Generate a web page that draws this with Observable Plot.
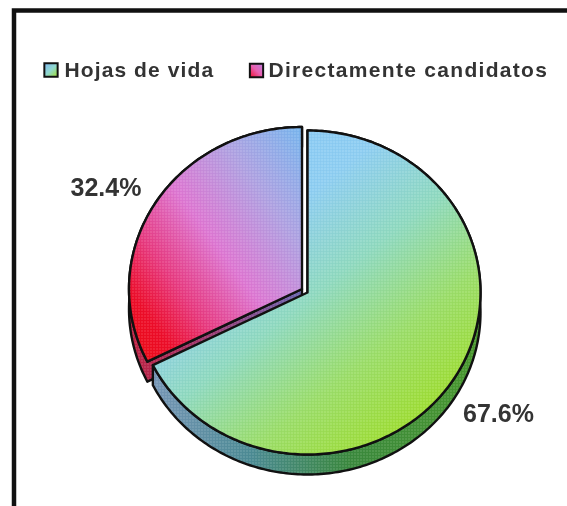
<!DOCTYPE html>
<html>
<head>
<meta charset="utf-8">
<script src="https://cdn.jsdelivr.net/npm/d3@7"></script>
<script src="https://cdn.jsdelivr.net/npm/@observablehq/plot@0.6"></script>
<style>html,body{margin:0;padding:0;background:#fff}svg{display:block;filter:blur(0.4px)}</style>
</head>
<body>
<div id="chart"></div>
<script>
const categories = ["Hojas de vida", "Directamente candidatos"];
const values = [67.6, 32.4];
const valueLabels = ["67.6%", "32.4%"];

const W = 567, H = 506;
const rx = 173, ry = 162;
const cx = 307, cy = 292;
const depth = 20 / ry;
const explode = {dx: -5.5 / rx, dy: 3.5 / ry};

const pie = d3.pie().sort(null).startAngle(0).endAngle(2 * Math.PI)(values);
const arcPts = (a0, a1, ox = 0, oy = 0) => {
  const n = Math.max(2, Math.ceil((a1 - a0) * 60));
  return d3.range(n + 1).map(i => {
    const a = a0 + (a1 - a0) * i / n;
    return {x: ox + Math.sin(a), y: oy + Math.cos(a)};
  });
};
const slice = (p, ox, oy) => [{x: ox, y: oy}, ...arcPts(p.startAngle, p.endAngle, ox, oy)];
const side = (p, ox, oy) => [
  {x: ox, y: oy}, ...arcPts(p.startAngle, p.endAngle, ox, oy),
  ...arcPts(p.startAngle, p.endAngle, ox, oy - depth).reverse(), {x: ox, y: oy - depth}
];

const [big, small] = pie;
const outline = {stroke: "#111", strokeWidth: 2.4, strokeLinejoin: "round"};
const closed = {x: "x", y: "y", curve: "linear-closed"};
const shape = (pts, fill) => [
  Plot.line(pts, {...closed, fill, stroke: "none"}),
  Plot.line(pts, {...closed, fill: "url(#dots)", stroke: "none"}),
  Plot.line(pts, {...closed, fill: "none", ...outline})
];

const stops = {
  gBig: {dir: [0, 0, 0.8, 1], s: [[0, "#88c8fa"], [0.35, "#8fd0f4"], [0.55, "#90dcc0"], [0.75, "#9ce068"], [1, "#a0e020"]]},
  gSmall: {dir: [1, 0, 0, 1], s: [[0, "#78b8f0"], [0.25, "#b0a4e4"], [0.5, "#e078d4"], [0.7, "#ea3a80"], [0.85, "#f00c28"], [1, "#f00a10"]]},
  gBigSide: {dir: [0, 0, 1, 0], s: [[0, "#7898b8"], [0.3, "#4c8c94"], [0.6, "#3a8a3c"], [1, "#4a9a2c"]]},
  gSmallSide: {dir: [1, 0, 0, 0], s: [[0, "#6a64b0"], [0.6, "#a03468"], [1, "#c02040"]]},
  gKey1: {dir: [0, 0, 1, 1], s: [[0, "#80b8f0"], [0.5, "#90d8d0"], [1, "#a0e030"]]},
  gKey2: {dir: [1, 0, 0, 1], s: [[0, "#c080e0"], [0.5, "#e860b0"], [1, "#f01030"]]}
};

const font = {fontFamily: "Liberation Sans, Arial, sans-serif", fontWeight: "bold", fill: "#333", stroke: "none"};

const chart = Plot.plot({
  width: W, height: H, margin: 0,
  x: {domain: [-cx / rx, (W - cx) / rx], range: [0, W], axis: null},
  y: {domain: [(cy - H) / ry, cy / ry], range: [H, 0], axis: null},
  style: {background: "#fff"},
  marks: [
    Plot.frame({stroke: "#111", strokeWidth: 4.5, insetLeft: 13.5, insetTop: 10, insetRight: -5, insetBottom: -5}),
    ...shape(side(small, explode.dx, explode.dy), "url(#gSmallSide)"),
    ...shape(slice(small, explode.dx, explode.dy), "url(#gSmall)"),
    ...shape(side(big, 0, 0), "url(#gBigSide)"),
    ...shape(slice(big, 0, 0), "url(#gBig)"),
    Plot.text([valueLabels[0]], {x: () => 1.104, y: () => -0.753, text: d => d, fontSize: 25, ...font}),
    Plot.text([valueLabels[1]], {x: () => -1.165, y: () => 0.648, text: d => d, fontSize: 25, ...font}),
    Plot.dot([categories[0]], {frameAnchor: "top-left", dx: 50.5, dy: 69.5, symbol: "square", r: 7.5, fill: "url(#gKey1)", stroke: "#111", strokeWidth: 2}),
    Plot.text([categories[0]], {frameAnchor: "top-left", textAnchor: "start", lineAnchor: "middle", dx: 64, dy: 69.5, text: d => d, fontSize: 21, ...font}),
    Plot.dot([categories[1]], {frameAnchor: "top-left", dx: 256, dy: 70, symbol: "square", r: 7.5, fill: "url(#gKey2)", stroke: "#111", strokeWidth: 2}),
    Plot.text([categories[1]], {frameAnchor: "top-left", textAnchor: "start", lineAnchor: "middle", dx: 268, dy: 69.5, text: d => d, fontSize: 21, ...font})
  ]
});

const defs = d3.select(chart).insert("defs", ":first-child");
for (const [id, g] of Object.entries(stops)) {
  const lg = defs.append("linearGradient").attr("id", id)
    .attr("x1", g.dir[0]).attr("y1", g.dir[1]).attr("x2", g.dir[2]).attr("y2", g.dir[3]);
  for (const [o, c] of g.s) lg.append("stop").attr("offset", o).attr("stop-color", c);
}
const dots = defs.append("pattern").attr("id", "dots").attr("patternUnits", "userSpaceOnUse").attr("width", 3).attr("height", 3);
dots.append("rect").attr("width", 1).attr("height", 1).attr("fill", "#fff").attr("fill-opacity", 0.38);
dots.append("rect").attr("x", 1.5).attr("y", 1.5).attr("width", 1).attr("height", 1).attr("fill", "#203060").attr("fill-opacity", 0.16);
d3.select(chart).selectAll("text").each(function () {
  const i = categories.indexOf(this.textContent);
  if (i >= 0) this.style.letterSpacing = ["1.1px", "1.3px"][i];
});
document.getElementById("chart").append(chart);
</script>
</body>
</html>
